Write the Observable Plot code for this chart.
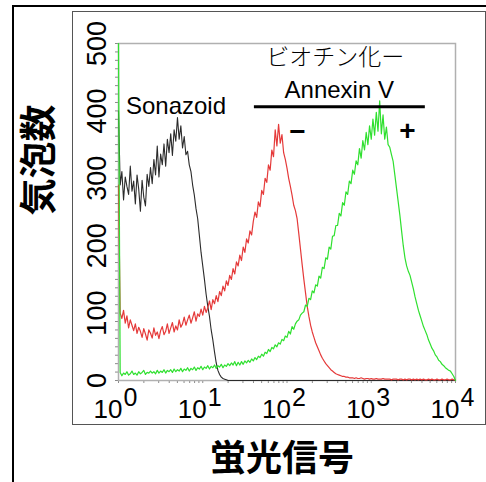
<!DOCTYPE html>
<html><head><meta charset="utf-8">
<script src="https://cdn.jsdelivr.net/npm/d3@7"></script>
<script src="https://cdn.jsdelivr.net/npm/@observablehq/plot@0.6"></script>
<style>
html,body{margin:0;padding:0;background:#fff;}
#wrap{position:relative;width:486px;height:482px;overflow:hidden;background:#fff;}
#wrap svg{position:absolute;left:0;top:0;}
#outer{position:absolute;left:12px;top:5px;right:-10px;bottom:-10px;border-left:2px solid #000;border-top:2px solid #000;}
#inner{position:absolute;left:72px;top:11px;width:412px;height:412px;border:1px solid #555;}
</style></head><body><div id="wrap"></div>
<script>
// histogram channels on a regular log grid: channel i sits at 10^(i*logStep)
const logStep = 0.02;

const sonazoidCounts = [
  400, 290, 310, 268, 302, 288, 276, 318, 281, 296,
  262, 305, 284, 251, 297, 272, 259, 306, 288, 316,
  292, 328, 305, 348, 302, 336, 320, 351, 318, 358,
  338, 366, 334, 372, 355, 390, 358, 378, 345, 362,
  335, 340, 320, 310, 290, 275, 255, 240, 215, 190,
  170, 150, 128, 110, 95, 75, 60, 42, 26, 15,
  9, 5, 3, 2, 1, 0, 0, 0, 0, 0,
  0, 0, 0, 0, 0, 0, 0, 0, 0, 0,
  0, 0, 0, 0, 0, 0, 0, 0, 0, 0,
  0, 0, 0, 0, 0, 0, 0, 0, 0, 0,
  0, 0, 0, 0, 0, 0, 0, 0, 0, 0,
  0, 0, 0, 0, 0, 0, 0, 0, 0, 0,
  0, 0, 0, 0, 0, 0, 0, 0, 0, 0,
  0, 0, 0, 0, 0, 0, 0, 0, 0, 0,
  0, 0, 0, 0, 0, 0, 0, 0, 0, 0,
  0, 0, 0, 0, 0, 0, 0, 0, 0, 0,
  0, 0, 0, 0, 0, 0, 0, 0, 0, 0,
  0, 0, 0, 0, 0, 0, 0, 0, 0, 0,
  0, 0, 0, 0, 0, 0, 0, 0, 0, 0,
  0, 0, 0, 0, 0, 0, 0, 0, 0, 0,
  0
];

const annexinNegCounts = [
  290, 100, 92, 104, 85, 96, 78, 90, 82, 74,
  84, 70, 79, 73, 64, 77, 69, 60, 75, 70,
  63, 78, 67, 72, 62, 74, 80, 68, 73, 84,
  70, 78, 86, 72, 81, 75, 90, 79, 84, 94,
  82, 90, 97, 85, 93, 102, 88, 99, 95, 106,
  97, 110, 101, 108, 118, 105, 120, 114, 126, 117,
  132, 126, 140, 133, 148, 141, 156, 150, 166, 158,
  176, 170, 186, 178, 198, 190, 210, 204, 222, 216,
  236, 250, 242, 265, 258, 282, 276, 300, 294, 320,
  312, 342, 332, 372, 348, 380, 352, 365, 338, 328,
  315, 300, 288, 275, 260, 252, 240, 218, 195, 172,
  150, 130, 110, 95, 82, 72, 64, 56, 50, 44,
  38, 33, 29, 25, 22, 19, 16, 14, 12, 10,
  9, 8, 7, 6, 6, 5, 5, 4, 4, 4,
  3, 4, 3, 3, 4, 3, 2, 3, 3, 2,
  3, 2, 2, 3, 2, 2, 2, 3, 2, 2,
  2, 2, 1, 2, 2, 2, 1, 2, 2, 1,
  2, 1, 2, 2, 1, 2, 1, 2, 1, 2,
  1, 2, 1, 1, 2, 1, 2, 1, 1, 2,
  1, 1, 2, 1, 1, 2, 1, 1, 2, 1,
  1
];

const annexinPosCounts = [
  500, 12, 7, 11, 9, 13, 8, 10, 14, 9,
  11, 8, 13, 10, 12, 15, 9, 12, 11, 14,
  11, 13, 10, 15, 11, 14, 12, 16, 11, 15,
  13, 16, 12, 17, 13, 16, 14, 18, 13, 17,
  15, 19, 14, 18, 16, 20, 15, 19, 17, 21,
  16, 20, 18, 22, 17, 21, 19, 23, 18, 22,
  20, 24, 19, 23, 21, 25, 22, 26, 23, 28,
  22, 27, 23, 28, 24, 29, 26, 30, 27, 32,
  29, 34, 31, 36, 34, 39, 36, 42, 40, 46,
  43, 49, 47, 53, 50, 56, 54, 61, 59, 66,
  64, 73, 69, 80, 76, 84, 88, 90, 97, 100,
  102, 112, 110, 122, 120, 133, 130, 142, 140, 155,
  152, 168, 166, 182, 180, 198, 195, 214, 215, 230,
  230, 248, 244, 264, 260, 280, 276, 296, 292, 312,
  306, 326, 320, 344, 330, 356, 342, 368, 350, 378,
  358, 388, 364, 398, 370, 415, 366, 394, 358, 376,
  350, 346, 335, 325, 305, 285, 265, 245, 222, 200,
  182, 170, 162, 156, 146, 136, 124, 114, 104, 96,
  88, 80, 74, 68, 60, 54, 48, 44, 38, 35,
  30, 28, 24, 22, 19, 17, 15, 14, 10, 6,
  0
];

const yTickLabels = [0, 100, 200, 300, 400, 500];
const xTickExponents = [0, 1, 2, 3, 4];
const xTitle = "蛍光信号";
const yTitle = "気泡数";
const sampleLabel = "Sonazoid";
const reagentLines = ["ビオチン化ー", "Annexin V"];
const signLabels = ["−", "+"];

const toPoints = (counts) => counts.map((c, i) => ({x: Math.pow(10, i * logStep), y: c}));
const sonazoid = toPoints(sonazoidCounts);
const annexinNeg = toPoints(annexinNegCounts);
const annexinPos = toPoints(annexinPosCounts);

const xMinor = [];
for (let e = 0; e < 4; e++) for (let m = 1; m < 10; m++) xMinor.push(m * Math.pow(10, e));
xMinor.push(1e4);
const yMinor = d3.range(0, 500.1, 12.5);

const latin = "'Liberation Sans', Arial, Helvetica, sans-serif";
const cjk = "'Noto Sans CJK JP', sans-serif";

const plot = Plot.plot({
  width: 486, height: 482,
  marginLeft: 118, marginRight: 31, marginTop: 43, marginBottom: 102,
  style: {fontFamily: latin, color: "#8a8a8a", background: "transparent", overflow: "visible"},
  x: {type: "log", domain: [1, 1e4], ticks: xMinor, tickSize: 3, tickFormat: () => "", label: null},
  y: {domain: [0, 500], ticks: yMinor, tickSize: 3, tickFormat: () => "", label: null},
  marks: [
    Plot.frame({stroke: "#b0b0b0", strokeWidth: 1.5}),
    Plot.line(sonazoid, {x: "x", y: "y", stroke: "#2b2b2b", strokeWidth: 1.1}),
    Plot.line(annexinNeg, {x: "x", y: "y", stroke: "#e53a3a", strokeWidth: 1.2}),
    Plot.line(annexinPos, {x: "x", y: "y", stroke: "#2fe02f", strokeWidth: 1.2}),
    // y tick labels
    Plot.text(yTickLabels, {y: d => d, text: d => String(d), frameAnchor: "left", rotate: -90,
      dx: -21, textAnchor: "middle", lineAnchor: "middle", fontSize: 27, fill: "#000"}),
    // x tick labels: base and exponent
    Plot.text(xTickExponents, {x: d => Math.pow(10, d), text: () => "10", frameAnchor: "bottom",
      textAnchor: "end", lineAnchor: "bottom", dx: 4, dy: 37, fontSize: 26, fill: "#000"}),
    Plot.text(xTickExponents, {x: d => Math.pow(10, d), text: d => String(d), frameAnchor: "bottom",
      textAnchor: "start", lineAnchor: "bottom", dx: 5, dy: 25, fontSize: 25, fill: "#000"}),
    // axis titles
    Plot.text([xTitle], {frameAnchor: "bottom", dx: -5, dy: 79, lineAnchor: "middle",
      fontSize: 36, fontWeight: "bold", fontFamily: cjk, fill: "#000"}),
    Plot.text([yTitle], {frameAnchor: "left", rotate: -90, dx: -78, dy: 3.5, lineAnchor: "middle",
      fontSize: 37, fontWeight: "bold", fontFamily: cjk, fill: "#000"}),
    // annotations
    Plot.text([sampleLabel], {x: () => 4.81, y: () => 396, lineAnchor: "bottom", fontSize: 24, fill: "#000"}),
    Plot.text([reagentLines[0]], {x: () => Math.pow(10, 2.574), y: () => 479, lineAnchor: "middle",
      fontSize: 23, fontFamily: cjk, fontWeight: 300, fill: "#000"}),
    Plot.text([reagentLines[1]], {x: () => Math.pow(10, 2.62), y: () => 419, lineAnchor: "bottom", fontSize: 24, fill: "#000"}),
    Plot.ruleY([406], {x1: Math.pow(10, 1.613), x2: Math.pow(10, 3.642), stroke: "#000", strokeWidth: 3}),
    Plot.text([signLabels[0]], {x: () => Math.pow(10, 2.123), y: () => 368, lineAnchor: "middle",
      fontSize: 28, fontWeight: "bold", fill: "#000"}),
    Plot.text([signLabels[1]], {x: () => Math.pow(10, 3.428), y: () => 370, lineAnchor: "middle",
      fontSize: 28, fontWeight: "bold", fill: "#000"})
  ]
});
const wrap = document.getElementById("wrap");
wrap.appendChild(plot);
const outer = document.createElement("div"); outer.id = "outer"; wrap.appendChild(outer);
const inner = document.createElement("div"); inner.id = "inner"; wrap.appendChild(inner);
</script>
</body></html>
